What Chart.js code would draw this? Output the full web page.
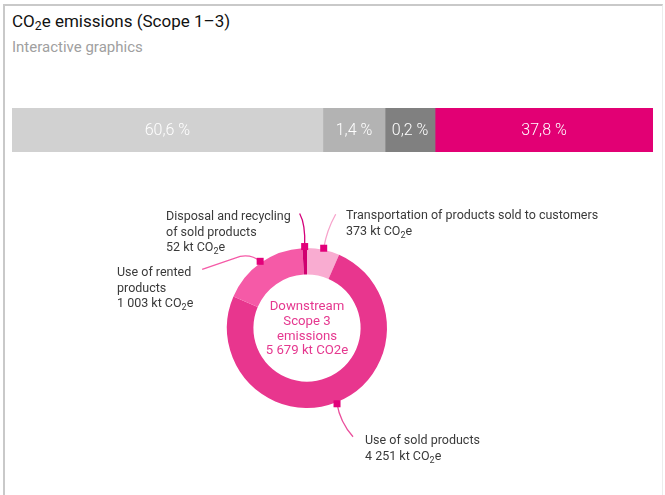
<!DOCTYPE html>
<html><head><meta charset="utf-8">
<script src="https://cdn.jsdelivr.net/npm/chart.js@4"></script>
<style>
html,body{margin:0;padding:0;background:#fff;}
#frame{position:relative;width:665px;height:495px;overflow:hidden;font-family:Roboto,"Noto Sans",sans-serif;}
#border{position:absolute;left:3px;top:4px;width:657px;height:500px;border-top:2px solid #c9c9c9;border-left:2px solid #c9c9c9;border-right:1px solid #ececec;}
.t{position:absolute;white-space:nowrap;}
#title{left:12px;top:11px;font-size:17px;line-height:20px;color:#111;}
#sub{left:12px;top:38px;font-size:15px;line-height:18px;color:#a0a0a0;}
.lbl{position:absolute;font-size:12.5px;line-height:15.5px;color:#3a3a3a;white-space:nowrap;}
sub{font-size:72%;vertical-align:-0.28em;line-height:0;}
#barWrap{position:absolute;left:12px;top:108px;width:641px;height:44px;}
#donutWrap{position:absolute;left:187px;top:208px;width:240px;height:240px;}
#center{position:absolute;left:247px;top:299px;width:120px;text-align:center;font-size:13.2px;line-height:14.8px;color:#e5388f;}
</style>
</head>
<body>
<div id="frame">
  <div id="border"></div>
  <div class="t" id="title">CO<sub>2</sub>e emissions (Scope 1–3)</div>
  <div class="t" id="sub">Interactive graphics</div>
  <div id="barWrap"><canvas id="bar" width="641" height="44"></canvas></div>
  <div id="donutWrap"><canvas id="donut" width="240" height="240"></canvas></div>
  <div id="center">Downstream<br>Scope 3<br>emissions<br>5 679 kt CO2e</div>
  <div class="lbl" style="left:166px;top:208px;">Disposal and recycling<br>of sold products<br>52 kt CO<sub>2</sub>e</div>
  <div class="lbl" style="left:346px;top:207px;">Transportation of products sold to customers<br>373 kt CO<sub>2</sub>e</div>
  <div class="lbl" style="left:117px;top:264px;">Use of rented<br>products<br>1 003 kt CO<sub>2</sub>e</div>
  <div class="lbl" style="left:365px;top:432px;">Use of sold products<br>4 251 kt CO<sub>2</sub>e</div>
</div>
<script>
// ---- Data: stacked share bar (Scope 1–3 split) ----
const barValues = [60.6, 1.4, 0.2, 37.8];          // percentages shown as labels
const barWidths = [48.5, 9.7, 7.8, 34.0];          // segment widths as drawn in the picture
const barColors = ['#d1d1d1', '#b3b3b3', '#808080', '#e20074'];

// ---- Data: downstream Scope 3 emissions (kt CO2e) ----
const categories = ['Transportation of products sold to customers', 'Use of sold products', 'Use of rented products', 'Disposal and recycling of sold products'];
const values = [373, 4251, 1003, 52];
const sliceColors = ['#f9acd1', '#e8368e', '#f55aa7', '#cf006f'];
const leaderColors = ['#f7a3cb', '#ea4f9c', '#f55aa7', '#d4007a'];
// leader paths relative to each slice marker: [ctrlX, ctrlY, endX, endY, extraX, extraY]
const leaderPaths = [[3, -18, 12, -34], [3, 18, 16, 33], [-8, -7, -20, -5, -58, 8], [1, -22, -5, -33]];

const fmt = v => v.toFixed(1).replace('.', ',') + ' %';

const barLabelPlugin = {
  id: 'barLabels',
  afterDatasetsDraw(chart) {
    const ctx = chart.ctx;
    ctx.save();
    ctx.fillStyle = '#ffffff';
    ctx.font = '300 16px Roboto, sans-serif';
    ctx.textAlign = 'center';
    ctx.textBaseline = 'middle';
    chart.data.datasets.forEach((ds, i) => {
      const el = chart.getDatasetMeta(i).data[0];
      const p = el.getProps(['x', 'y', 'base'], true);
      ctx.fillText(fmt(barValues[i]), (p.x + p.base) / 2, p.y + 1);
    });
    ctx.restore();
  }
};

new Chart(document.getElementById('bar'), {
  type: 'bar',
  data: {
    labels: ['share'],
    datasets: barWidths.map((w, i) => ({
      data: [w], backgroundColor: barColors[i], borderWidth: 0,
      barPercentage: 1, categoryPercentage: 1
    }))
  },
  options: {
    indexAxis: 'y', responsive: false, animation: false, devicePixelRatio: 1,
    layout: { padding: 0 },
    scales: {
      x: { stacked: true, display: false, min: 0, max: barWidths.reduce((a, b) => a + b, 0) },
      y: { stacked: true, display: false }
    },
    plugins: { legend: { display: false }, tooltip: { enabled: false } }
  },
  plugins: [barLabelPlugin]
});

const markerPlugin = {
  id: 'markers',
  afterDatasetsDraw(chart) {
    const ctx = chart.ctx;
    const meta = chart.getDatasetMeta(0);
    ctx.save();
    meta.data.forEach((arc, i) => {
      const p = arc.getProps(['x', 'y', 'startAngle', 'endAngle', 'outerRadius'], true);
      const mid = (p.startAngle + p.endAngle) / 2;
      const r = p.outerRadius + 1.5;
      const mx = p.x + Math.cos(mid) * r;
      const my = p.y + Math.sin(mid) * r;
      const L = leaderPaths[i];
      ctx.beginPath();
      ctx.strokeStyle = leaderColors[i];
      ctx.lineWidth = 1.3;
      ctx.moveTo(mx, my);
      ctx.quadraticCurveTo(mx + L[0], my + L[1], mx + L[2], my + L[3]);
      if (L.length > 4) ctx.lineTo(mx + L[4], my + L[5]);
      ctx.stroke();
      ctx.fillStyle = '#e2007a';
      ctx.fillRect(mx - 3.5, my - 3.5, 7, 7);
    });
    ctx.restore();
  }
};

new Chart(document.getElementById('donut'), {
  type: 'doughnut',
  data: {
    labels: categories,
    datasets: [{ data: values, backgroundColor: sliceColors, borderWidth: 0 }]
  },
  options: {
    responsive: false, animation: false, devicePixelRatio: 1,
    cutout: '67%',
    layout: { padding: 40 },
    plugins: { legend: { display: false }, tooltip: { enabled: false } }
  },
  plugins: [markerPlugin]
});
</script>
</body></html>
